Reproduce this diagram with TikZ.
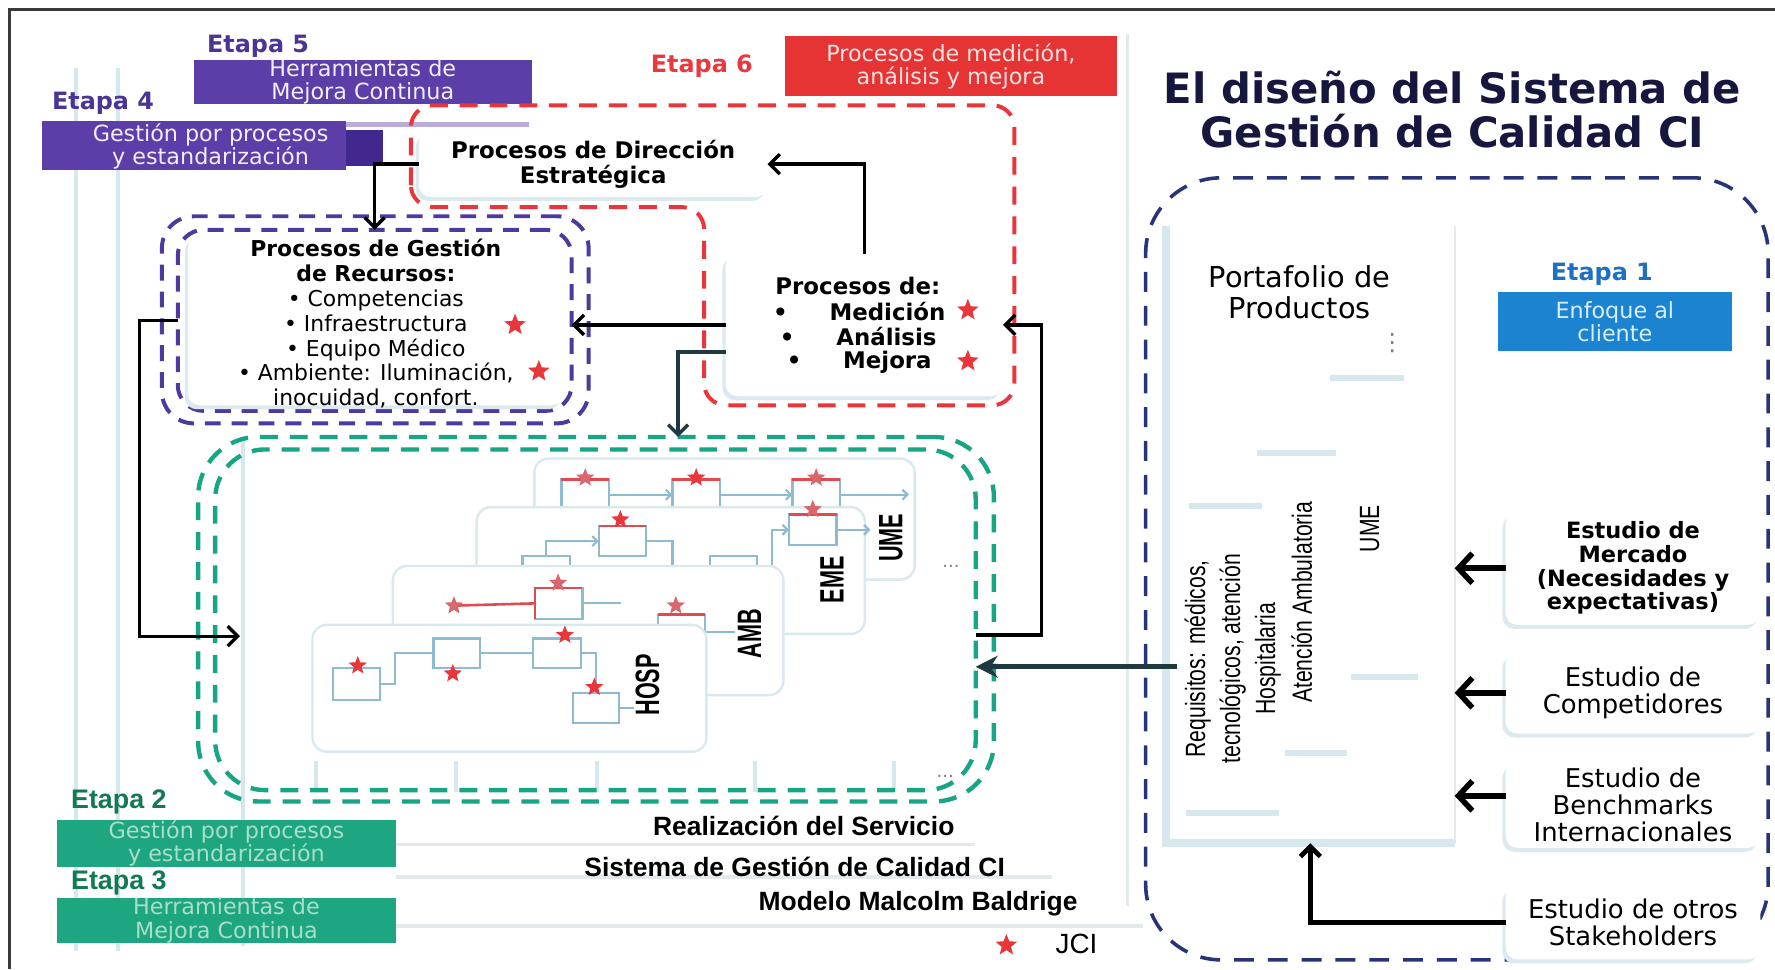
\documentclass[tikz,border=0pt]{standalone}
\usepackage{fontspec}
\usepackage{graphicx}
\setmainfont{Liberation Sans}
\newfontfamily\dejavu{DejaVu Sans}
\newfontfamily\narrowsans[FakeStretch=0.76]{Liberation Sans}
\newfontfamily\cardfont[FakeStretch=0.64]{Liberation Sans}
\usetikzlibrary{arrows.meta,shapes.geometric,calc}

\definecolor{purp}{HTML}{5B3EA8}
\definecolor{purpdark}{HTML}{40288E}
\definecolor{purplight}{HTML}{B9ADDB}
\definecolor{purplabel}{HTML}{4A3596}
\definecolor{purpline}{HTML}{4E3A9F}
\definecolor{purptext}{HTML}{F2EEFF}
\definecolor{redbox}{HTML}{E63434}
\definecolor{redlabel}{HTML}{E8393F}
\definecolor{redline}{HTML}{E8363C}
\definecolor{redtext}{HTML}{FFE3E3}
\definecolor{greenbox}{HTML}{1DA680}
\definecolor{greenlabel}{HTML}{117A52}
\definecolor{greenline}{HTML}{18A584}
\definecolor{greentext}{HTML}{A9DEC9}
\definecolor{navyline}{HTML}{283477}
\definecolor{titlecol}{HTML}{16163E}
\definecolor{bluebox}{HTML}{1C83D0}
\definecolor{bluelabel}{HTML}{1E71C2}
\definecolor{bluetext}{HTML}{D8EEFB}
\definecolor{faint}{HTML}{D6E8EE}
\definecolor{faintgray}{HTML}{E4EAEC}
\definecolor{shadowc}{HTML}{DCEAF0}
\definecolor{cardline}{HTML}{D9E9EF}
\definecolor{flow}{HTML}{8EBBCF}
\definecolor{flowred}{HTML}{E24A50}
\definecolor{starred}{HTML}{E8363A}
\definecolor{starpink}{HTML}{D9676D}
\definecolor{slate}{HTML}{1E3A40}
\definecolor{framec}{HTML}{3A3A3A}

\begin{document}
\begin{tikzpicture}[x=0.02cm,y=-0.02cm,
  every node/.style={inner sep=0pt,outer sep=0pt},
  stagelabel/.style={font=\dejavu\bfseries\fontsize{12}{14}\selectfont},
  greenstage/.style={font=\bfseries\fontsize{13.5}{14}\selectfont,text=greenlabel},
  stagebox/.style={rectangle,align=center,font=\dejavu\fontsize{11.2}{11.6}\selectfont},
  softshadow/.style={preaction={fill=shadowc,transform canvas={xshift=-1.6pt,yshift=-2pt}}},
  panel/.style={rectangle,fill=white,rounded corners=6pt,softshadow},
  conn/.style={draw=black,line width=1.7pt,-{Straight Barb[length=5pt,width=10pt]}},
  studyarrow/.style={draw=black,line width=2.8pt,-{Straight Barb[length=7pt,width=15pt]}},
  bigconn/.style={draw=slate,line width=2.4pt,-{Stealth[length=11pt,width=11pt]}},
  purpdash/.style={draw=purpline,line width=2pt,dash pattern=on 8pt off 5.5pt},
  greendash/.style={draw=greenline,line width=2.2pt,dash pattern=on 9pt off 6pt},
  reddash/.style={draw=redline,line width=2pt,dash pattern=on 9pt off 6pt},
  navydash/.style={draw=navyline,line width=1.8pt,dash pattern=on 10pt off 7pt},
  jstar/.style={star,star points=5,star point ratio=2.3,fill=starred,minimum size=0.4cm},
  pstar/.style={jstar,fill=starpink,minimum size=0.34cm},
  fstar/.style={jstar,minimum size=0.34cm},
  card/.style={rectangle,fill=white,draw=cardline,line width=1.2pt,rounded corners=7pt},
  fbox/.style={rectangle,draw=flow,line width=1.1pt,minimum width=0.84cm,minimum height=0.54cm},
  fline/.style={draw=flow,line width=1.1pt},
  farrow/.style={fline,-{Straight Barb[length=2.5pt,width=5pt]}},
  redtop/.style={draw=flowred,line width=1.3pt},
  cardlabel/.style={rotate=90,font=\cardfont\bfseries\fontsize{17}{17}\selectfont},
  faintline/.style={draw=faint,line width=2pt},
  bodytext/.style={font=\dejavu\bfseries\fontsize{11.5}{12.6}\selectfont},
  studytext/.style={align=center,font=\dejavu\fontsize{13}{13.7}\selectfont},
  bottomtext/.style={font=\bfseries\fontsize{13.3}{14}\selectfont},
  sidetext/.style={rotate=90,align=center,font=\narrowsans\fontsize{14}{17.6}\selectfont},
]
\useasboundingbox (0,0) rectangle (1568,856);
\fill[white] (0,0) rectangle (1568,856);

% faded guide lines of the underlying model
\draw[faintline] (67,60) -- (67,840);
\draw[faintline] (104,60) -- (104,840);
\draw[faintline] (215,388) -- (215,836);
\draw[draw=faintgray,line width=1.4pt] (996,30) -- (996,800);
\foreach \tx in {279,403,527,667,790} \draw[faintline] (\tx,672) -- (\tx,700);
\draw[draw=faintgray,line width=2pt] (350,746) -- (861,746);
\draw[draw=faintgray,line width=2pt] (350,775) -- (929,775);
\draw[draw=faintgray,line width=2pt] (350,818) -- (1010,818);

% frame
\draw[draw=framec,line width=1.5pt] (8,856) -- (8,8) -- (1568,8);

% stage 5
\node[stagelabel,text=purplabel] (e5lab) at (228,41) {Etapa 5};
\node[stagebox,fill=purp,text=purptext,minimum width=5.98cm,minimum height=0.78cm] (e5box) at (320.5,72.5) {Herramientas de\\Mejora Continua};

% stage 4
\draw[draw=purplight,line width=2.5pt] (176,110) -- (467,110);
\node[rectangle,fill=purp,minimum width=5.38cm,minimum height=0.86cm] (e4box) at (171.5,128.5) {};
\node[rectangle,fill=purpdark,minimum width=0.64cm,minimum height=0.64cm] (e4tab) at (322,131) {};
\node[stagebox,text=purptext] (e4txt) at (186,129) {Gestión por procesos\\y estandarización};
\node[stagelabel,text=purplabel] (e4lab) at (91,91) {Etapa 4};

% stage 6
\node[stagelabel,text=redlabel] (e6lab) at (620,58) {Etapa 6};
\node[stagebox,fill=redbox,text=redtext,minimum width=5.88cm,minimum height=1.06cm] (e6box) at (840,58.5) {Procesos de medición,\\análisis y mejora};

% title
\node[font=\dejavu\bfseries\fontsize{21}{22.3}\selectfont,text=titlecol,align=center] (title) at (1283,97) {El diseño del Sistema de\\Gestión de Calidad CI};

% measurement, analysis and improvement area
\draw[reddash,rounded corners=11pt] (363,183) -- (363,93) -- (896,93) -- (896,358) -- (622,358) -- (622,183) -- cycle;
\node[panel,minimum width=6.16cm,minimum height=1.16cm,align=center,bodytext] (dir) at (524,145) {Procesos de Dirección\\Estratégica};
\node[panel,minimum width=4.9cm,minimum height=2.52cm] (proc) at (763.5,287) {};
\node[anchor=west,bodytext] (procT) at (685,253) {Procesos de:};
\node[anchor=west,bodytext] (procM) at (683,275) {•\hspace{21pt}Medición};
\node[anchor=west,bodytext] (procA) at (689,297) {•\hspace{21pt}Análisis};
\node[anchor=west,bodytext] (procJ) at (695,320) {•\hspace{21pt}Mejora};
\node[jstar] (sM) at (855,274) {};
\node[jstar] (sJ) at (855,319) {};

% resource management
\node[purpdash,rectangle,rounded corners=16pt,minimum width=7.54cm,minimum height=3.66cm] (resout) at (331.5,282.5) {};
\node[purpdash,rectangle,rounded corners=13pt,minimum width=6.96cm,minimum height=3.2cm] (resin) at (331,283) {};
\node[panel,minimum width=6.64cm,minimum height=3cm] (res) at (332,283) {};
\node[align=center,font=\dejavu\fontsize{11}{12.5}\selectfont] (resT) at (332,286)
  {\textbf{Procesos de Gestión}\\\textbf{de Recursos:}\\• Competencias\\• Infraestructura\\• Equipo Médico\\• Ambiente: Iluminación,\\inocuidad, confort.};
\node[jstar] (sI) at (455,287) {};
\node[jstar] (sA) at (476,328) {};

% service realization area
\node[greendash,rectangle,rounded corners=30pt,minimum width=14.06cm,minimum height=6.44cm] (svcout) at (526.5,547) {};
\node[greendash,rectangle,rounded corners=25pt,minimum width=13.44cm,minimum height=6.02cm] (svcin) at (526,547.5) {};

% UME card
\node[card,minimum width=6.72cm,minimum height=2.14cm] (umeCard) at (640,458.5) {};
\node[fbox] (u1) at (517,437) {};
\node[fbox] (u2) at (615,437) {};
\node[fbox] (u3) at (721,437) {};
\foreach \b in {u1,u2,u3} \draw[redtop] (\b.north west) -- (\b.north east);
\draw[farrow] (u1.east) -- (u2.west);
\draw[farrow] (u2.east) -- (u3.west);
\coordinate (uEnd) at (803,437);
\draw[farrow] (u3.east) -- (uEnd);
\node[pstar] (su1) at (517,422) {};
\node[fstar] (su2) at (615,422) {};
\node[pstar] (su3) at (721,422) {};
\node[cardlabel] (umeLab) at (787,475) {UME};

% EME card
\node[card,minimum width=6.86cm,minimum height=2.24cm] (emeCard) at (592.5,504) {};
\node[fbox] (b1) at (482.5,505) {};
\node[fbox] (e1) at (550,478) {};
\node[fbox] (b2) at (648,505) {};
\node[fbox] (e2) at (718,468) {};
\draw[redtop] (e1.north west) -- (e1.north east);
\draw[redtop] (e2.north west) -- (e2.north east);
\draw[farrow] (b1.north) |- (e1.west);
\draw[fline] (e1.east) -- ++(23,0) -- ++(0,30);
\coordinate (e2In) at (682,505);
\draw[farrow] (e2In) |- (e2.west);
\coordinate (eEnd) at (769,468);
\draw[farrow] (e2.east) -- (eEnd);
\node[fstar] (se1) at (548,459) {};
\node[pstar] (se2) at (718,450) {};
\node[cardlabel] (emeLab) at (735,512) {EME};

% AMB card
\node[card,minimum width=6.9cm,minimum height=2.28cm] (ambCard) at (519.5,557) {};
\node[fbox] (a1) at (493.5,533) {};
\draw[redtop] (a1.south west) -- (a1.north west) -- (a1.north east);
\coordinate (sa0c) at (401,535);
\draw[redtop] (sa0c) -- (a1.west);
\node[pstar] (sa0) at (sa0c) {};
\draw[fline] (a1.east) -- ++(34,0);
\node[fbox,minimum height=0.6cm] (a2) at (602,558) {};
\draw[redtop] (a2.north west) -- (a2.north east);
\draw[fline] (a2.east) -- ++(26,0);
\node[pstar] (sa1) at (493,515) {};
\node[pstar] (sa2) at (597,535) {};
\node[cardlabel] (ambLab) at (662,560) {AMB};

% HOSP card
\node[card,minimum width=6.96cm,minimum height=2.24cm] (hospCard) at (450,608) {};
\node[fbox,minimum height=0.56cm] (h1) at (315,604) {};
\node[fbox,minimum width=0.82cm,minimum height=0.52cm] (h2) at (403.5,577) {};
\node[fbox,minimum height=0.52cm] (h3) at (492,577) {};
\node[fbox,minimum width=0.82cm] (h4) at (526.5,625.5) {};
\draw[fline] (h1.east) -- ++(13,0) |- (h2.west);
\draw[fline] (h2.east) -- (h3.west);
\draw[fline] (h3.east) -| (h4.north);
\draw[fline] (h4.east) -- ++(13,0);
\node[fstar] (sh1) at (316,588) {};
\node[fstar] (sh2) at (400,595) {};
\node[fstar] (sh3) at (499,561) {};
\node[fstar] (sh4) at (525,607) {};
\node[cardlabel] (hospLab) at (572,605) {HOSP};

\node[font=\dejavu\fontsize{9}{9}\selectfont,text=gray] (dotsA) at (840,500) {...};
\node[font=\dejavu\fontsize{9}{9}\selectfont,text=gray] (dotsB) at (835,686) {...};

% connectors on the left side
\draw[conn] (dir.west) -| (resin.north);
\draw[conn] (proc.west) -- (proc.west -| resin.east);
\draw[conn] (proc.north) |- (dir.east);
\path (svcout.north) ++(72.5,0) coordinate (svcTop);
\draw[conn,draw=slate] ($(proc.west)+(0,24)$) -| (svcTop);
\coordinate (svcL) at (212,562);
\draw[conn] (resin.west) -- ++(-34,0) |- (svcL);
\draw[conn] ($(svcin.east)+(0,13.5)$) -- ++(58,0) |- (proc.east);

% customer focus area
\node[navydash,rectangle,rounded corners=38pt,minimum width=11cm,minimum height=13.82cm] (right) at (1287,502.5) {};
\node[rectangle,minimum width=5.1cm,minimum height=10.9cm] (port) at (1157.5,472.5) {};
\draw[draw=faint,line width=4pt] (port.north west) -- (port.south west) -- (port.south east);
\draw[draw=faintgray,line width=1pt] (port.north east) -- (port.south east);
\node[align=center,font=\dejavu\fontsize{14.5}{15.4}\selectfont] (portT) at (1148,258) {Portafolio de\\Productos};
\node[font=\dejavu\fontsize{12}{12}\selectfont,text=gray] (vdots) at (1230,303) {⋮};
\draw[faintline,line width=3pt] (1175,334) -- (1240,334);
\draw[faintline,line width=3pt] (1110,400) -- (1180,400);
\draw[faintline,line width=3pt] (1050,447) -- (1115,447);
\draw[faintline,line width=3pt] (1193,598) -- (1253,598);
\draw[faintline,line width=3pt] (1135,665) -- (1190,665);
\draw[faintline,line width=3pt] (1048,718) -- (1130,718);
\node[sidetext] (req) at (1089,582) {Requisitos: médicos,\\tecnológicos, atención\\Hospitalaria};
\node[sidetext] (ambul) at (1150,532) {Atención Ambulatoria};
\node[sidetext] (umeSide) at (1210,467) {UME};

\node[stagelabel,text=bluelabel] (e1lab) at (1415,242) {Etapa 1};
\node[stagebox,fill=bluebox,text=bluetext,minimum width=4.14cm,minimum height=1.04cm] (e1box) at (1426.5,284) {Enfoque al\\cliente};

\node[panel,minimum width=4.5cm,minimum height=2cm,align=center,font=\dejavu\bfseries\fontsize{11.3}{11.9}\selectfont] (merc) at (1442.5,502) {Estudio de\\Mercado\\(Necesidades y\\expectativas)};
\node[panel,minimum width=4.5cm,minimum height=1.44cm,studytext] (comp) at (1442.5,612) {Estudio de\\Competidores};
\node[panel,minimum width=4.5cm,minimum height=1.52cm,studytext] (bench) at (1442.5,711) {Estudio de\\Benchmarks\\Internacionales};
\node[panel,minimum width=4.5cm,minimum height=1.3cm,studytext] (stake) at (1442.5,815) {Estudio de otros\\Stakeholders};

\draw[studyarrow] (merc.west) -- (merc.west -| port.east);
\draw[studyarrow] (comp.west) -- (comp.west -| port.east);
\path ($(bench.west)+(0,-8)$) coordinate (benchOut);
\draw[studyarrow] (benchOut) -- (benchOut -| port.east);
\draw[conn,line width=2.4pt] (stake.west) -| (port.south);

% requirements feeding service realization
\coordinate (reqOut) at (1040,589);
\draw[bigconn] (reqOut) -- (reqOut -| svcin.east);

% stages 2 and 3, model layers
\node[greenstage] (e2lab) at (105,708) {Etapa 2};
\node[stagebox,fill=greenbox,text=greentext,minimum width=6cm,minimum height=0.84cm] (e2box) at (200,745) {Gestión por procesos\\y estandarización};
\node[greenstage] (e3lab) at (105,780) {Etapa 3};
\node[stagebox,fill=greenbox,text=greentext,minimum width=6cm,minimum height=0.76cm] (e3box) at (200,813) {Herramientas de\\Mejora Continua};

\node[bottomtext] (realiz) at (710,730) {Realización del Servicio};
\node[bottomtext] (sgc) at (702,766) {Sistema de Gestión de Calidad CI};
\node[bottomtext] (mmb) at (811,798) {Modelo Malcolm Baldrige};
\node[jstar] (legstar) at (889,835) {};
\node[font=\fontsize{14}{14}\selectfont] (jci) at (951,834) {JCI};
\end{tikzpicture}
\end{document}
